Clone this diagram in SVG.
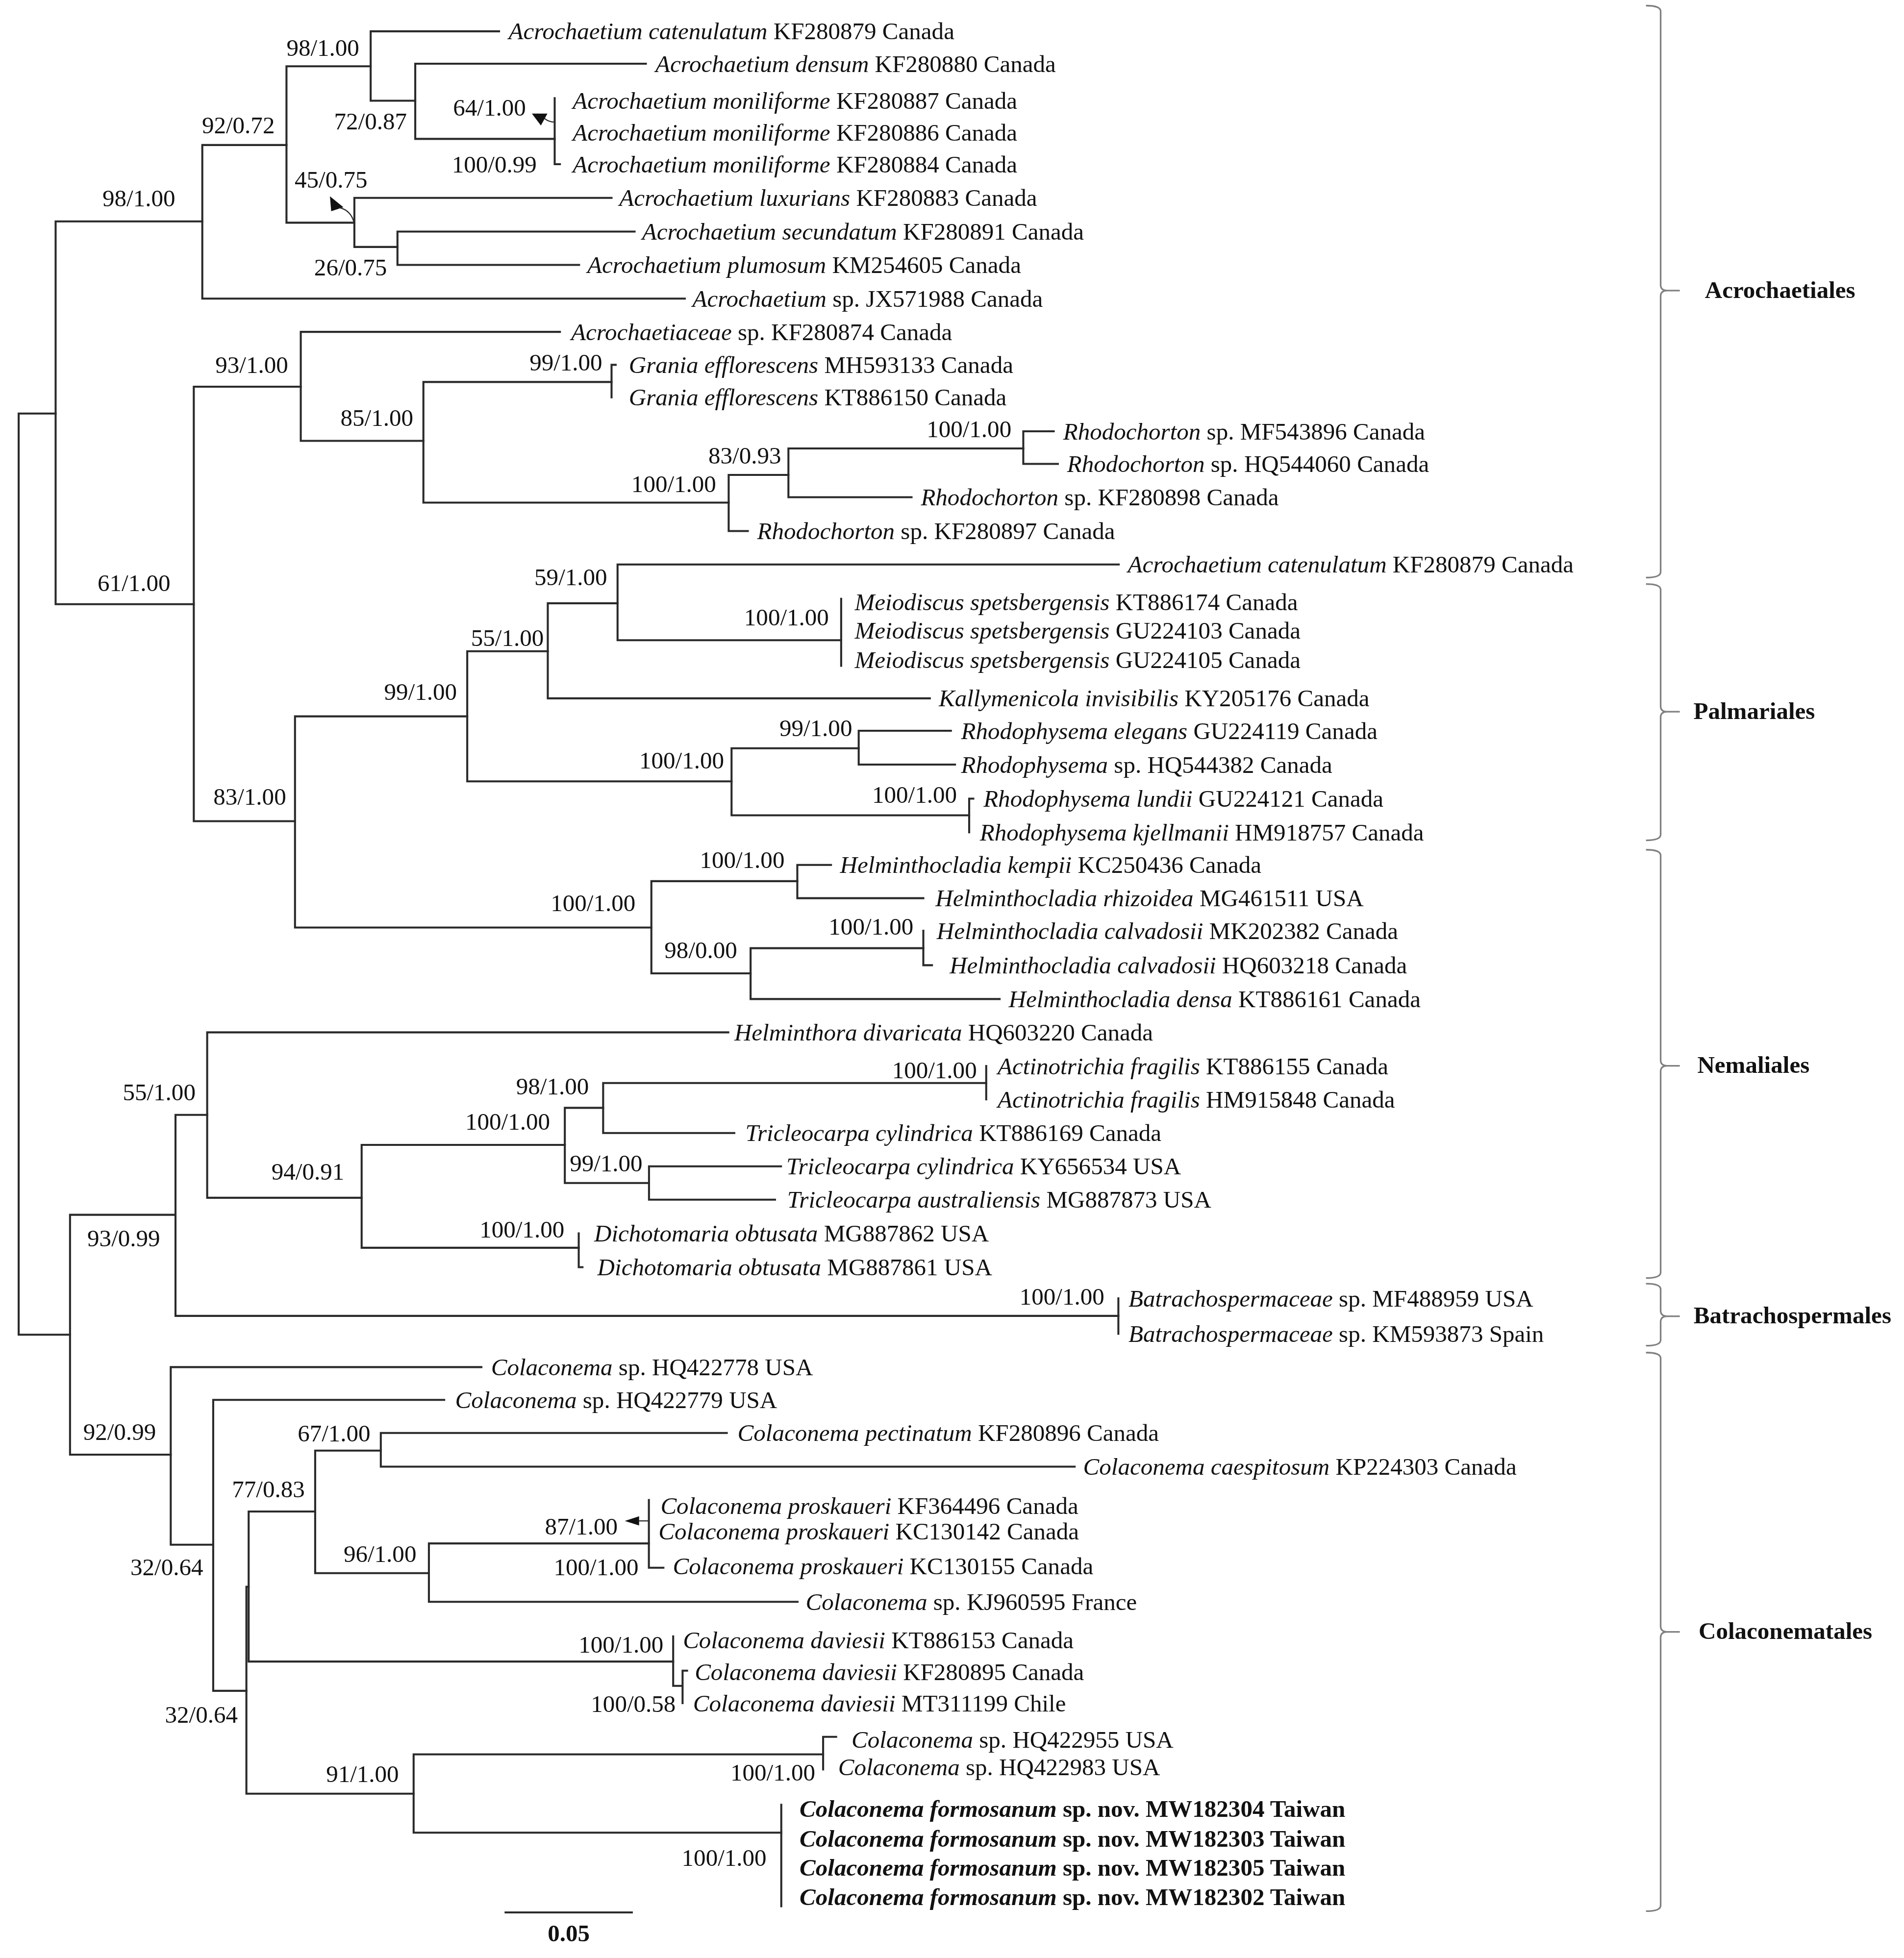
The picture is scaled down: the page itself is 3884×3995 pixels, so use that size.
<svg xmlns="http://www.w3.org/2000/svg" width="3884" height="3995" viewBox="0 0 3884 3995">
<style>
.br{fill:none;stroke:#2a2a2a;stroke-width:1.6;stroke-linecap:square;stroke-linejoin:miter}
.t{font-family:"Liberation Serif","Times New Roman",serif;font-size:19.2px;fill:#111}
.i{font-style:italic}
.b{font-weight:bold}
.brc{fill:none;stroke:#808080;stroke-width:1.3}
.ar{fill:#111;stroke:none}
.arl{fill:none;stroke:#2a2a2a;stroke-width:0.9}
</style>
<rect width="3884" height="3995" fill="#ffffff"/>
<g transform="scale(2.5553)">
<g id="connectors">
<path class="br" d="M14.9,330.2V1065.7 M14.9,330.2H44.4 M14.9,1065.7H55.9"/>
<path class="br" d="M44.4,176.8V482.4 M44.4,176.8H161.5 M44.4,482.4H154.7"/>
<path class="br" d="M161.5,115.8V238.4 M161.5,115.8H228.7 M161.5,238.4H546.7"/>
<path class="br" d="M228.7,52.9V177.8 M228.7,52.9H295.9 M228.7,177.8H282.9"/>
<path class="br" d="M295.9,25V80.4 M295.9,25H398.4 M295.9,80.4H331.5"/>
<path class="br" d="M331.5,50.9V110.9 M331.5,50.9H515.6 M331.5,110.9H442.8"/>
<path class="br" d="M442.8,78.4V131.1H447"/>
<path class="br" d="M282.9,158V197.2 M282.9,158H488.2 M282.9,197.2H317.3"/>
<path class="br" d="M317.3,184.9V211.5 M317.3,184.9H506.6 M317.3,211.5H462.3"/>
<path class="br" d="M154.7,308.8V655.7 M154.7,308.8H240.1 M154.7,655.7H235.5"/>
<path class="br" d="M240.1,265V352 M240.1,265H447 M240.1,352H338"/>
<path class="br" d="M338,305V401.3 M338,305H488.2 M338,401.3H581.7"/>
<path class="br" d="M491.5,291.3H488.2V317.3"/>
<path class="br" d="M581.7,379.2V424 M581.7,379.2H629.4 M581.7,424H597"/>
<path class="br" d="M629.4,358.1V397 M629.4,358.1H816.9 M629.4,397H727.7"/>
<path class="br" d="M816.9,344.4V370.4 M816.9,344.4H841.2 M816.9,370.4H844.5"/>
<path class="br" d="M235.5,572V740.6 M235.5,572H373 M235.5,740.6H520"/>
<path class="br" d="M373,520V623.9 M373,520H437.3 M373,623.9H584"/>
<path class="br" d="M437.3,481.7V557.6 M437.3,481.7H493 M437.3,557.6H742.3"/>
<path class="br" d="M493,450.7V511.2 M493,450.7H893.1 M493,511.2H671.5"/>
<path class="br" d="M671.5,478.1V531.6"/>
<path class="br" d="M584,597.5V651 M584,597.5H685.5 M584,651H773.7"/>
<path class="br" d="M685.5,583.5V610.5 M685.5,583.5H759.1 M685.5,610.5H762.4"/>
<path class="br" d="M777,637.7H773.7V664.6"/>
<path class="br" d="M520,703.6V777.2 M520,703.6H636.5 M520,777.2H599.2"/>
<path class="br" d="M636.5,690.6V717.2 M636.5,690.6H663.4 M636.5,717.2H737.1"/>
<path class="br" d="M599.2,757.1V797.7 M599.2,757.1H737.1 M599.2,797.7H798"/>
<path class="br" d="M737.1,743.2V770.7H744"/>
<path class="br" d="M55.9,970V1161.5 M55.9,970H140.1 M55.9,1161.5H136.3"/>
<path class="br" d="M140.1,890.2V1050.7 M140.1,890.2H165.4 M140.1,1050.7H892.8"/>
<path class="br" d="M892.8,1036.7V1065"/>
<path class="br" d="M165.4,824.3V956.4 M165.4,824.3H581.4 M165.4,956.4H288.7"/>
<path class="br" d="M288.7,914.2V996.3 M288.7,914.2H450.9 M288.7,996.3H462"/>
<path class="br" d="M450.9,884.6V944.6 M450.9,884.6H481.5 M450.9,944.6H518.1"/>
<path class="br" d="M481.5,864.8V904.7 M481.5,864.8H787.3 M481.5,904.7H586.2"/>
<path class="br" d="M787.3,851.2V877.8"/>
<path class="br" d="M518.1,931.3V957.9 M518.1,931.3H623.5 M518.1,957.9H618.7"/>
<path class="br" d="M462,984.8V1011.8H465"/>
<path class="br" d="M136.3,1091.6V1233.4 M136.3,1091.6H384.3 M136.3,1233.4H170.2"/>
<path class="br" d="M170.2,1117.8V1350.1 M170.2,1117.8H354.6 M170.2,1350.1H196.7"/>
<path class="br" d="M196.7,1267V1432.2 M196.7,1267H198.5 M196.7,1432.2H330.2"/>
<path class="br" d="M198.5,1206.9V1326.7 M198.5,1206.9H251.6 M198.5,1326.7H537.4"/>
<path class="br" d="M251.6,1158.3V1256.1 M251.6,1158.3H304 M251.6,1256.1H342.4"/>
<path class="br" d="M304,1144.2V1171.1 M304,1144.2H580.2 M304,1171.1H857.9"/>
<path class="br" d="M342.4,1232.4V1279 M342.4,1232.4H518 M342.4,1279H636.7"/>
<path class="br" d="M518,1197.7V1251.8H529.6"/>
<path class="br" d="M537.4,1306.6V1346.1H544.9 M548.5,1334H544.9V1359.9"/>
<path class="br" d="M330.2,1400.8V1463.3 M330.2,1400.8H657.1 M330.2,1463.3H623.7"/>
<path class="br" d="M667.5,1386.8H657.1V1412.8"/>
<path class="br" d="M623.7,1441V1522.1"/>
<path class="ar" d="M424.6,90.7L437,90.7L431.8,100.2Z"/>
<path class="arl" d="M434.5,94.5Q438,97.5 442.8,97.5"/>
<path class="ar" d="M263.4,156.7L264.4,168.7L274.1,165.4Z"/>
<path class="arl" d="M271,165.8Q280,168 282.6,177.5"/>
<path class="ar" d="M498.8,1214.4L510.2,1210.7L510.2,1218.1Z"/>
<path class="arl" d="M510,1214.4H518"/>
</g>
<g id="support-values" class="t">
<text x="228.7" y="44.8">98/1.00</text>
<text x="266.7" y="103.2">72/0.87</text>
<text x="361.7" y="92.5">64/1.00</text>
<text x="360.7" y="137.9">100/0.99</text>
<text x="161.2" y="106.4">92/0.72</text>
<text x="235.2" y="149.9">45/0.75</text>
<text x="250.8" y="220">26/0.75</text>
<text x="81.8" y="164.8">98/1.00</text>
<text x="77.9" y="472">61/1.00</text>
<text x="171.9" y="297.8">93/1.00</text>
<text x="271.8" y="340">85/1.00</text>
<text x="422.7" y="295.8">99/1.00</text>
<text x="739.7" y="349">100/1.00</text>
<text x="565.5" y="370.4">83/0.93</text>
<text x="504" y="393.1">100/1.00</text>
<text x="426.6" y="467.1">59/1.00</text>
<text x="376" y="515.8">55/1.00</text>
<text x="594" y="499.2">100/1.00</text>
<text x="306.6" y="559">99/1.00</text>
<text x="170.3" y="642.4">83/1.00</text>
<text x="622.2" y="587.8">99/1.00</text>
<text x="510.3" y="613.7">100/1.00</text>
<text x="696.2" y="641">100/1.00</text>
<text x="439.6" y="727.6">100/1.00</text>
<text x="558.6" y="692.9">100/1.00</text>
<text x="530.4" y="765.2">98/0.00</text>
<text x="661.5" y="746.4">100/1.00</text>
<text x="98" y="878.5">55/1.00</text>
<text x="69.7" y="995.3">93/0.99</text>
<text x="216.7" y="941.8">94/0.91</text>
<text x="371.4" y="901.9">100/1.00</text>
<text x="412" y="873.7">98/1.00</text>
<text x="454.8" y="935.2">99/1.00</text>
<text x="712.1" y="861">100/1.00</text>
<text x="382.8" y="988.2">100/1.00</text>
<text x="813.9" y="1041.6">100/1.00</text>
<text x="66.4" y="1149.6">92/0.99</text>
<text x="104.1" y="1257.9">32/0.64</text>
<text x="131.7" y="1375.6">32/0.64</text>
<text x="185.2" y="1195.7">77/0.83</text>
<text x="237.6" y="1151">67/1.00</text>
<text x="274.3" y="1247.4">96/1.00</text>
<text x="435" y="1225.4">87/1.00</text>
<text x="442" y="1257.9">100/1.00</text>
<text x="461.9" y="1319.7">100/1.00</text>
<text x="471.7" y="1366.9">100/0.58</text>
<text x="260.3" y="1422.8">91/1.00</text>
<text x="583.1" y="1421.6">100/1.00</text>
<text x="544.2" y="1489.7">100/1.00</text>
</g>
<g id="leaves" class="t">
<g id="leaf01"><text x="406" y="31.5"><tspan class="i">Acrochaetium catenulatum</tspan> KF280879 Canada</text></g>
<g id="leaf02"><text x="523.2" y="57.4"><tspan class="i">Acrochaetium densum</tspan> KF280880 Canada</text></g>
<g id="leaf03"><text x="457.2" y="86.8"><tspan class="i">Acrochaetium moniliforme</tspan> KF280887 Canada</text></g>
<g id="leaf04"><text x="457.2" y="112.2"><tspan class="i">Acrochaetium moniliforme</tspan> KF280886 Canada</text></g>
<g id="leaf05"><text x="457.2" y="137.6"><tspan class="i">Acrochaetium moniliforme</tspan> KF280884 Canada</text></g>
<g id="leaf06"><text x="494.4" y="164.5"><tspan class="i">Acrochaetium luxurians</tspan> KF280883 Canada</text></g>
<g id="leaf07"><text x="512.6" y="191.4"><tspan class="i">Acrochaetium secundatum</tspan> KF280891 Canada</text></g>
<g id="leaf08"><text x="468.8" y="218"><tspan class="i">Acrochaetium plumosum</tspan> KM254605 Canada</text></g>
<g id="leaf09"><text x="552.8" y="244.9"><tspan class="i">Acrochaetium</tspan> sp. JX571988 Canada</text></g>
<g id="leaf10"><text x="455.9" y="271.5"><tspan class="i">Acrochaetiaceae</tspan> sp. KF280874 Canada</text></g>
<g id="leaf11"><text x="502" y="298"><tspan class="i">Grania efflorescens</tspan> MH593133 Canada</text></g>
<g id="leaf12"><text x="502" y="323.8"><tspan class="i">Grania efflorescens</tspan> KT886150 Canada</text></g>
<g id="leaf13"><text x="848.7" y="350.9"><tspan class="i">Rhodochorton</tspan> sp. MF543896 Canada</text></g>
<g id="leaf14"><text x="851.9" y="376.9"><tspan class="i">Rhodochorton</tspan> sp. HQ544060 Canada</text></g>
<g id="leaf15"><text x="735.1" y="403.5"><tspan class="i">Rhodochorton</tspan> sp. KF280898 Canada</text></g>
<g id="leaf16"><text x="604.4" y="430.5"><tspan class="i">Rhodochorton</tspan> sp. KF280897 Canada</text></g>
<g id="leaf17"><text x="900.3" y="457"><tspan class="i">Acrochaetium catenulatum</tspan> KF280879 Canada</text></g>
<g id="leaf18"><text x="682.3" y="487.2"><tspan class="i">Meiodiscus spetsbergensis</tspan> KT886174 Canada</text></g>
<g id="leaf19"><text x="682.3" y="509.9"><tspan class="i">Meiodiscus spetsbergensis</tspan> GU224103 Canada</text></g>
<g id="leaf20"><text x="682.3" y="533.3"><tspan class="i">Meiodiscus spetsbergensis</tspan> GU224105 Canada</text></g>
<g id="leaf21"><text x="749.4" y="564.1"><tspan class="i">Kallymenicola invisibilis</tspan> KY205176 Canada</text></g>
<g id="leaf22"><text x="767.2" y="590"><tspan class="i">Rhodophysema elegans</tspan> GU224119 Canada</text></g>
<g id="leaf23"><text x="767.2" y="617"><tspan class="i">Rhodophysema</tspan> sp. HQ544382 Canada</text></g>
<g id="leaf24"><text x="785.1" y="644.2"><tspan class="i">Rhodophysema lundii</tspan> GU224121 Canada</text></g>
<g id="leaf25"><text x="782.2" y="671"><tspan class="i">Rhodophysema kjellmanii</tspan> HM918757 Canada</text></g>
<g id="leaf26"><text x="670.6" y="697.1"><tspan class="i">Helminthocladia kempii</tspan> KC250436 Canada</text></g>
<g id="leaf27"><text x="746.8" y="723.7"><tspan class="i">Helminthocladia rhizoidea</tspan> MG461511 USA</text></g>
<g id="leaf28"><text x="747.8" y="749.7"><tspan class="i">Helminthocladia calvadosii</tspan> MK202382 Canada</text></g>
<g id="leaf29"><text x="758.1" y="777.2"><tspan class="i">Helminthocladia calvadosii</tspan> HQ603218 Canada</text></g>
<g id="leaf30"><text x="805.2" y="804.2"><tspan class="i">Helminthocladia densa</tspan> KT886161 Canada</text></g>
<g id="leaf31"><text x="586.2" y="830.8"><tspan class="i">Helminthora divaricata</tspan> HQ603220 Canada</text></g>
<g id="leaf32"><text x="796.4" y="857.7"><tspan class="i">Actinotrichia fragilis</tspan> KT886155 Canada</text></g>
<g id="leaf33"><text x="796.4" y="884.3"><tspan class="i">Actinotrichia fragilis</tspan> HM915848 Canada</text></g>
<g id="leaf34"><text x="595" y="911.2"><tspan class="i">Tricleocarpa cylindrica</tspan> KT886169 Canada</text></g>
<g id="leaf35"><text x="627.7" y="937.8"><tspan class="i">Tricleocarpa cylindrica</tspan> KY656534 USA</text></g>
<g id="leaf36"><text x="628.4" y="964.4"><tspan class="i">Tricleocarpa australiensis</tspan> MG887873 USA</text></g>
<g id="leaf37"><text x="474.3" y="991.3"><tspan class="i">Dichotomaria obtusata</tspan> MG887862 USA</text></g>
<g id="leaf38"><text x="476.9" y="1018.3"><tspan class="i">Dichotomaria obtusata</tspan> MG887861 USA</text></g>
<g id="leaf39"><text x="900.9" y="1043.2"><tspan class="i">Batrachospermaceae</tspan> sp. MF488959 USA</text></g>
<g id="leaf40"><text x="900.9" y="1071.5"><tspan class="i">Batrachospermaceae</tspan> sp. KM593873 Spain</text></g>
<g id="leaf41"><text x="392" y="1098.1"><tspan class="i">Colaconema</tspan> sp. HQ422778 USA</text></g>
<g id="leaf42"><text x="363.4" y="1124.3"><tspan class="i">Colaconema</tspan> sp. HQ422779 USA</text></g>
<g id="leaf43"><text x="588.8" y="1150.7"><tspan class="i">Colaconema pectinatum</tspan> KF280896 Canada</text></g>
<g id="leaf44"><text x="864.7" y="1177.6"><tspan class="i">Colaconema caespitosum</tspan> KP224303 Canada</text></g>
<g id="leaf45"><text x="527.3" y="1209"><tspan class="i">Colaconema proskaueri</tspan> KF364496 Canada</text></g>
<g id="leaf46"><text x="525.7" y="1229.2"><tspan class="i">Colaconema proskaueri</tspan> KC130142 Canada</text></g>
<g id="leaf47"><text x="537.1" y="1257.1"><tspan class="i">Colaconema proskaueri</tspan> KC130155 Canada</text></g>
<g id="leaf48"><text x="643.2" y="1285.5"><tspan class="i">Colaconema</tspan> sp. KJ960595 France</text></g>
<g id="leaf49"><text x="545.2" y="1316.1"><tspan class="i">Colaconema daviesii</tspan> KT886153 Canada</text></g>
<g id="leaf50"><text x="554.6" y="1341.4"><tspan class="i">Colaconema daviesii</tspan> KF280895 Canada</text></g>
<g id="leaf51"><text x="553.3" y="1366.4"><tspan class="i">Colaconema daviesii</tspan> MT311199 Chile</text></g>
<g id="leaf52"><text x="679.8" y="1395.6"><tspan class="i">Colaconema</tspan> sp. HQ422955 USA</text></g>
<g id="leaf53"><text x="669.1" y="1417.3"><tspan class="i">Colaconema</tspan> sp. HQ422983 USA</text></g>
<g id="leaf54"><text class="b" x="638.3" y="1450.8"><tspan class="i">Colaconema formosanum</tspan> sp. nov. MW182304 Taiwan</text></g>
<g id="leaf55"><text class="b" x="638.3" y="1474.4"><tspan class="i">Colaconema formosanum</tspan> sp. nov. MW182303 Taiwan</text></g>
<g id="leaf56"><text class="b" x="638.3" y="1497.8"><tspan class="i">Colaconema formosanum</tspan> sp. nov. MW182305 Taiwan</text></g>
<g id="leaf57"><text class="b" x="638.3" y="1521.2"><tspan class="i">Colaconema formosanum</tspan> sp. nov. MW182302 Taiwan</text></g>
</g>
<g id="clades">
<g id="clade-acrochaetiales"><path class="brc" d="M1314,4.5Q1325.7,4.5 1325.7,9V227.5Q1325.7,232 1331,232H1341M1331,232Q1325.7,232 1325.7,236.5V456.7Q1325.7,461.2 1314,461.2"/><text class="t b" x="1361" y="237.8">Acrochaetiales</text></g>
<g id="clade-palmariales"><path class="brc" d="M1314,466.3Q1325.7,466.3 1325.7,470.8V563.8Q1325.7,568.3 1331,568.3H1341M1331,568.3Q1325.7,568.3 1325.7,572.8V666.5Q1325.7,671 1314,671"/><text class="t b" x="1351.9" y="574.1">Palmariales</text></g>
<g id="clade-nemaliales"><path class="brc" d="M1314,678.5Q1325.7,678.5 1325.7,683V846.5Q1325.7,851 1331,851H1341M1331,851Q1325.7,851 1325.7,855.5V1016Q1325.7,1020.5 1314,1020.5"/><text class="t b" x="1355" y="856.8">Nemaliales</text></g>
<g id="clade-batrachospermales"><path class="brc" d="M1314,1025Q1325.7,1025 1325.7,1029.5V1046.5Q1325.7,1051 1331,1051H1341M1331,1051Q1325.7,1051 1325.7,1055.5V1070Q1325.7,1074.5 1314,1074.5"/><text class="t b" x="1352" y="1056.8">Batrachospermales</text></g>
<g id="clade-colaconematales"><path class="brc" d="M1314,1080Q1325.7,1080 1325.7,1084.5V1298.5Q1325.7,1303 1331,1303H1341M1331,1303Q1325.7,1303 1325.7,1307.5V1521.5Q1325.7,1526 1314,1526"/><text class="t b" x="1356" y="1308.8">Colaconematales</text></g>
</g>
<g id="scale-bar">
<path class="br" d="M403.6,1527H504.4"/>
<text class="t b" x="454" y="1550.3" text-anchor="middle">0.05</text>
</g>
</g>
</svg>
